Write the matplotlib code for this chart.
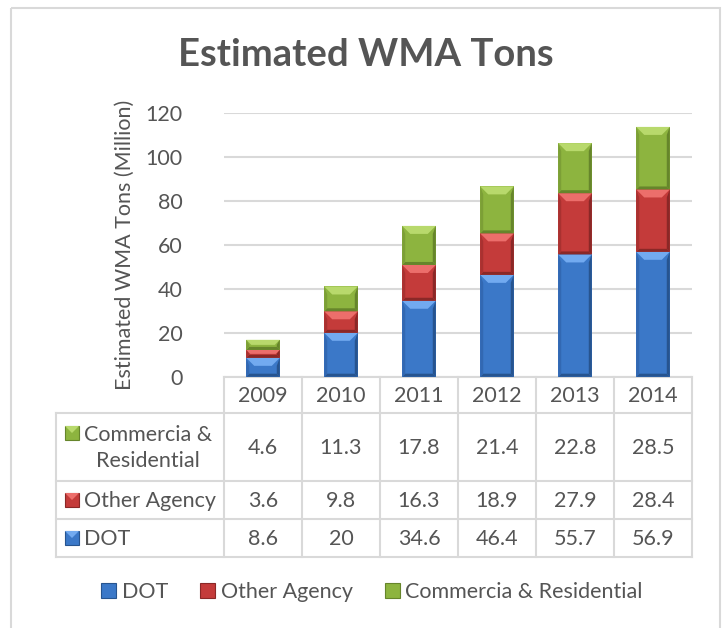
import matplotlib
matplotlib.use('Agg')
import matplotlib.pyplot as plt
from matplotlib.patches import Polygon, Rectangle
import numpy as np

# ---------------- data ----------------
years = ['2009', '2010', '2011', '2012', '2013', '2014']
dot = [8.6, 20, 34.6, 46.4, 55.7, 56.9]
other_agency = [3.6, 9.8, 16.3, 18.9, 27.9, 28.4]
commercial = [4.6, 11.3, 17.8, 21.4, 22.8, 28.5]
series_names = ['DOT', 'Other Agency', 'Commercia & Residential']
table_row_labels = ['Commercia &\nResidential', 'Other Agency', 'DOT']
y_ticks = [0, 20, 40, 60, 80, 100, 120]
title = 'Estimated WMA Tons'
y_label = 'Estimated WMA Tons (Million)'

# ---------------- style ----------------
plt.rcParams['font.family'] = ['Lato', 'DejaVu Sans']
TXT = '#555555'
GRID = '#d9d9d9'
FS = 15.5
palette = {
    'DOT': dict(main='#3b78c8', light='#72aaf0', dark='#27548f', side='#3268b2'),
    'Other Agency': dict(main='#c43b3a', light='#ec6e6b', dark='#8a2827', side='#a93130'),
    'Commercia & Residential': dict(main='#8db43f', light='#b8d96c', dark='#66852b', side='#7c9f36'),
}

W, H = 725, 628
fig = plt.figure(figsize=(W / 100, H / 100), dpi=100)
fig.patch.set_facecolor('white')

def fx(px):
    return px / W

def fy(py):
    return 1 - py / H

# overlay in pixel coordinates (table, border, texts)
ov = fig.add_axes([0, 0, 1, 1], zorder=0)
ov.set_xlim(0, W)
ov.set_ylim(H, 0)
ov.axis('off')

# plot axes
x_left, x_right, y_top, y_bot = 224, 692, 113.3, 376.7
ax = fig.add_axes([fx(x_left), fy(y_bot), (x_right - x_left) / W, (y_bot - y_top) / H], zorder=1)
ax.patch.set_alpha(0)
ax.set_xlim(-0.5, len(years) - 0.5)
ax.set_ylim(0, 120)
for s in ax.spines.values():
    s.set_visible(False)
ax.set_yticks(y_ticks)
ax.set_yticklabels([str(t) for t in y_ticks], fontsize=FS, color=TXT)
ax.tick_params(axis='y', length=0, pad=30)
ax.set_xticks([])
ax.yaxis.grid(True, color=GRID, lw=1.5)
ax.set_axisbelow(True)

x = np.arange(len(years))
bw = 0.43
series = [dot, other_agency, commercial]
bottom = np.zeros(len(years))

# pixel -> data scaling
p0 = ax.transData.transform((0, 0))
p1 = ax.transData.transform((1, 1))
ppx = p1[0] - p0[0]
ppy = p1[1] - p0[1]

for name, vals in zip(series_names, series):
    c = palette[name]
    bars = ax.bar(x, vals, bw, bottom=bottom, color=c['main'], edgecolor='none', zorder=2)
    for b in bars:
        x0, y0 = b.get_x(), b.get_y()
        x1, y1 = x0 + b.get_width(), y0 + b.get_height()
        hpx = (y1 - y0) * ppy
        t = min(8, hpx / 2) / ppy   # top bevel depth
        tx = min(8, hpx / 2) / ppx
        sx = 3 / ppx                # side width
        sb = min(3, hpx / 2) / ppy  # bottom depth
        polys = [
            ([(x0, y1), (x1, y1), (x1 - tx, y1 - t), (x0 + tx, y1 - t)], c['light']),
            ([(x0, y0), (x1, y0), (x1 - sx, y0 + sb), (x0 + sx, y0 + sb)], c['dark']),
            ([(x0, y0), (x0 + sx, y0 + sb), (x0 + sx, y1 - t), (x0, y1)], c['side']),
            ([(x1, y0), (x1 - sx, y0 + sb), (x1 - sx, y1 - t), (x1, y1)], c['dark']),
        ]
        for pts, col in polys:
            ax.add_patch(Polygon(pts, closed=True, fc=col, ec='none', zorder=3))
    bottom = bottom + np.array(vals)

# ---------------- title & axis label ----------------
fig.text(fx(366), fy(55), title, ha='center', va='center', fontsize=27.5,
         fontweight='bold', color=TXT)
ov.text(125, 245, y_label, rotation=90, ha='center', va='center', fontsize=FS, color=TXT)

# ---------------- data table ----------------
col_w = (x_right - x_left) / len(years)
row_edges = [376.7, 413, 481, 519, 557]
tbl_left = 56
lw = 1.5
ov.plot([x_left, x_right], [row_edges[0]] * 2, color=GRID, lw=lw)
for ry in row_edges[1:]:
    ov.plot([tbl_left, x_right], [ry, ry], color=GRID, lw=lw)
ov.plot([tbl_left, tbl_left], [row_edges[1], row_edges[-1]], color=GRID, lw=lw)
for i in range(len(years) + 1):
    cx = x_left + i * col_w
    ov.plot([cx, cx], [row_edges[0], row_edges[-1]], color=GRID, lw=lw)

for i, yr in enumerate(years):
    cx = x_left + (i + 0.5) * col_w
    ov.text(cx, (row_edges[0] + row_edges[1]) / 2 + 1, yr, ha='center', va='center',
            fontsize=FS, color=TXT)

table_series = [('Commercia & Residential', commercial), ('Other Agency', other_agency), ('DOT', dot)]
for r, ((name, vals), lab) in enumerate(zip(table_series, table_row_labels)):
    ytop, ybot = row_edges[r + 1], row_edges[r + 2]
    yc = (ytop + ybot) / 2
    c = palette[name]
    key_y = yc if '\n' not in lab else ytop + 20
    ov.add_patch(Rectangle((65, key_y - 7), 14, 14, fc=c['main'], ec=c['dark'], lw=0.8))
    ov.add_patch(Polygon([(65, key_y - 7), (79, key_y - 7), (72, key_y)], fc=c['light'], ec='none'))
    ov.text(84, yc + 1, lab, ha='left', va='center', multialignment='center',
            fontsize=FS, color=TXT, linespacing=1.35)
    for i, v in enumerate(vals):
        cx = x_left + (i + 0.5) * col_w
        ov.text(cx, yc + 1, f'{v:g}', ha='center', va='center', fontsize=FS, color=TXT)

# ---------------- legend ----------------
handles = [Rectangle((0, 0), 1, 1, fc=palette[n]['main'], ec=palette[n]['dark'], lw=0.8)
           for n in series_names]
fig.legend(handles, series_names, loc='center', bbox_to_anchor=(fx(372), fy(592)),
           ncol=3, frameon=False, fontsize=FS, labelcolor=TXT, handlelength=0.7,
           handleheight=0.7, handletextpad=0.25, columnspacing=1.5)

# ---------------- chart border ----------------
ov.add_patch(Rectangle((11, 8), 709, 640, fill=False, ec=GRID, lw=1.5))

fig.savefig('out.png', dpi=100, facecolor='white')
